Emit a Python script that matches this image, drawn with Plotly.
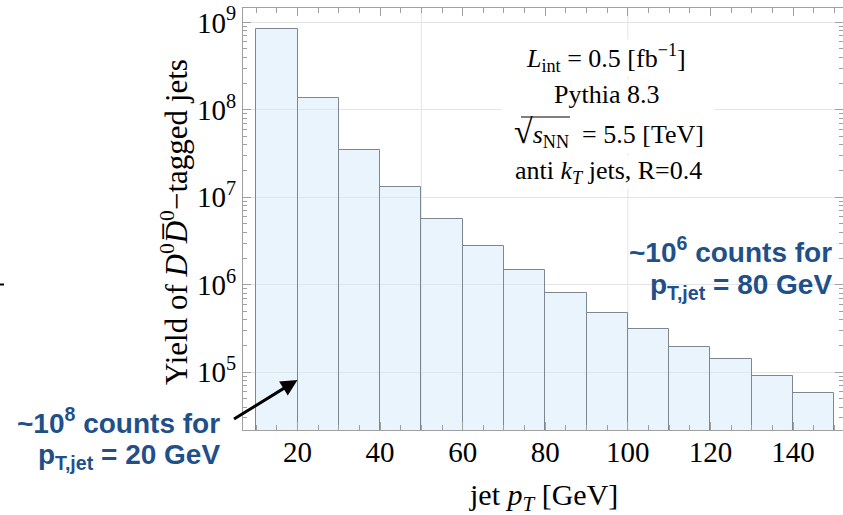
import plotly.graph_objects as go

# Jet pT bins (GeV): lower edges, width and yields
bin_low = [10, 20, 30, 40, 50, 60, 70, 80, 90, 100, 110, 120, 130, 140]
bin_width = 10
yields = [8.4e8, 1.36e8, 3.5e7, 1.30e7, 5.7e6, 2.75e6, 1.49e6,
          8.0e5, 4.74e5, 3.11e5, 1.92e5, 1.43e5, 9.0e4, 5.85e4]

x_ticks = [20, 40, 60, 80, 100, 120, 140]
y_exponents = [5, 6, 7, 8, 9]
y_tickvals = [10 ** e for e in y_exponents]
y_ticktext = [f"10<sup>{e}</sup>" for e in y_exponents]
y_minor = [k * 10 ** e for e in range(4, 10) for k in range(2, 10)]
x_grid = [50, 100]

centers = [lo + bin_width / 2 for lo in bin_low]

W, H = 843, 515
ML, MR, MT, MB = 243, 0, 8, 85
PW, PH = W - ML - MR, H - MT - MB

SERIF = "Liberation Serif"
SANS = "Liberation Sans"
BLUE = "#1f5089"
FRAME = "#a0a0a0"

fig = go.Figure()
fig.add_trace(go.Bar(
    x=centers, y=yields, width=[bin_width] * len(centers),
    marker=dict(color="rgba(213,233,251,0.5)",
                line=dict(color="#7d8691", width=1)),
    hoverinfo="x+y",
))

def px_x(p):
    return (p - ML) / PW

def px_y(p):
    return (H - MB - p) / PH

annotations = []

# info block, top right (the sqrt line gets its backdrop from a shape)
info_lines = [
    ("<i>L</i><sub>int</sub> = 0.5 [fb<sup>−1</sup>]", 606, 58, "white"),
    ("Pythia 8.3", 606, 95, "white"),
    ("<span style='font-size:34px'>√</span><i>s</i><sub>NN</sub>  = 5.5 [TeV]", 609, 132, "rgba(0,0,0,0)"),
    ("anti <i>k</i><sub><i>T</i></sub> jets, R=0.4", 608, 172, "white"),
]
for txt, xp, yp, bg in info_lines:
    annotations.append(dict(
        text=txt, xref="paper", yref="paper", x=px_x(xp), y=px_y(yp),
        xanchor="center", yanchor="middle", showarrow=False,
        font=dict(family=SERIF, size=26, color="black"),
        bgcolor=bg, borderpad=0,
    ))

# callouts in blue
callouts = [
    ("~10<sup>6</sup> counts for", 834, 250),
    ("p<sub>T,jet</sub> = 80 GeV", 834, 286),
    ("~10<sup>8</sup> counts for", 222, 421),
    ("p<sub>T,jet</sub> = 20 GeV", 222, 456),
]
for txt, xp, yp in callouts:
    annotations.append(dict(
        text=f"<b>{txt}</b>", xref="paper", yref="paper", x=px_x(xp), y=px_y(yp),
        xanchor="right", yanchor="middle", showarrow=False,
        font=dict(family=SANS, size=28, color=BLUE),
    ))

# arrow pointing at the 20 GeV bin edge
annotations.append(dict(
    x=20, y=4.912, xref="x", yref="y", text="", showarrow=True,
    arrowhead=2, arrowsize=1.1, arrowwidth=3, arrowcolor="black",
    ax=-65, ay=40,
))

# axis titles
annotations.append(dict(
    text="Yield of <i>D</i><sup>0</sup><i>D̅</i><sup>0</sup>−tagged jets",
    xref="paper", yref="paper", x=px_x(174), y=px_y(222), textangle=-90,
    xanchor="center", yanchor="middle", showarrow=False,
    font=dict(family=SERIF, size=31, color="black"),
))
annotations.append(dict(
    text="jet <i>p</i><sub><i>T</i></sub> [GeV]",
    xref="paper", yref="paper", x=px_x(543), y=px_y(497),
    xanchor="center", yanchor="middle", showarrow=False,
    font=dict(family=SERIF, size=30, color="black"),
))

shapes = [
    dict(type="line", xref="x", yref="paper", x0=g, x1=g, y0=0, y1=1,
         line=dict(color="#e4e4e4", width=1), layer="below")
    for g in x_grid
]
# backdrop and vinculum of the square-root line
shapes.append(dict(type="rect", xref="paper", yref="paper",
                   x0=px_x(502), x1=px_x(714), y0=px_y(153), y1=px_y(107),
                   fillcolor="white", line=dict(width=0), layer="above"))
shapes.append(dict(type="line", xref="paper", yref="paper",
                   x0=px_x(521), x1=px_x(570), y0=px_y(117), y1=px_y(117),
                   line=dict(color="black", width=1.2), layer="above"))
# short stroke at the left border
shapes.append(dict(type="line", xref="paper", yref="paper",
                   x0=px_x(0), x1=px_x(4), y0=px_y(284.5), y1=px_y(284.5),
                   line=dict(color="black", width=2)))

fig.update_layout(
    width=W, height=H,
    margin=dict(l=ML, r=MR, t=MT, b=MB, pad=0),
    paper_bgcolor="white", plot_bgcolor="white",
    showlegend=False, bargap=0,
    annotations=annotations, shapes=shapes,
    xaxis=dict(
        range=[6.8, 152.1], tickvals=x_ticks,
        ticks="inside", ticklen=8, tickcolor=FRAME, tickwidth=1,
        showline=True, linecolor=FRAME, linewidth=1, mirror="ticks",
        showgrid=False, zeroline=False, ticklabelstandoff=-4,
        tickfont=dict(family=SERIF, size=29, color="black"),
        minor=dict(dtick=5, tick0=0, ticks="inside", ticklen=5,
                   tickcolor=FRAME, showgrid=False),
    ),
    yaxis=dict(
        type="log", range=[4.339, 9.165],
        tickvals=y_tickvals, ticktext=y_ticktext,
        ticks="inside", ticklen=8, tickcolor=FRAME, tickwidth=1,
        showline=True, linecolor=FRAME, linewidth=1, mirror="ticks",
        showgrid=True, gridcolor="#e4e4e4", gridwidth=1, zeroline=False,
        tickfont=dict(family=SERIF, size=29, color="black"),
        minor=dict(tickvals=y_minor, ticks="inside", ticklen=4,
                   tickcolor=FRAME, showgrid=False),
    ),
)

fig.write_html("out.html")
